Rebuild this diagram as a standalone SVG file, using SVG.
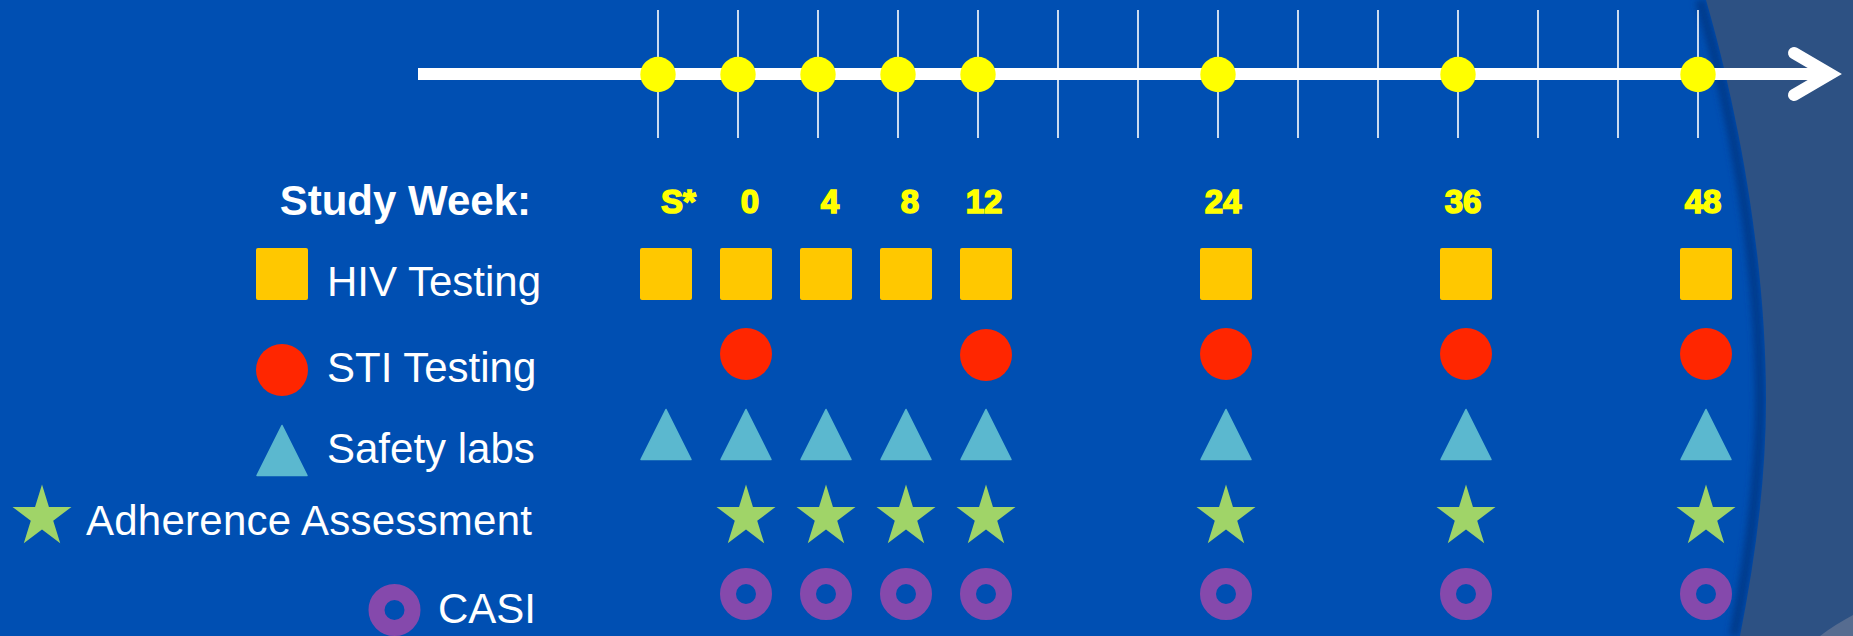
<svg xmlns="http://www.w3.org/2000/svg" xmlns:xlink="http://www.w3.org/1999/xlink" width="1853" height="636" viewBox="0 0 1853 636">
<style>
.bg{fill:#004FB2}
.tick{stroke:#FFFFFF;stroke-width:1.6}
.axis{stroke:#FFFFFF;stroke-width:12;fill:none}
.ydot{fill:#FFFF00}
.wk{font-family:"Liberation Sans",Arial,sans-serif;font-weight:bold;font-size:33px;fill:#FFFF00;stroke:#FFFF00;stroke-width:1.6;text-anchor:middle}
.head{font-family:"Liberation Sans",Arial,sans-serif;font-weight:bold;font-size:42px;fill:#FFFFFF;text-anchor:end}
.lbl{font-family:"Liberation Sans",Arial,sans-serif;font-size:42px;fill:#FFFFFF}
.sq{fill:#FFC800}
.rd{fill:#FF2600}
.tr{fill:#5BB8CF;stroke:#5BB8CF;stroke-width:1.5;stroke-linejoin:round}
.st{fill:#A0D468}
.rg{fill:none;stroke:#8549AC;stroke-width:16}
</style>
<defs>
<rect id="sq" class="sq" x="-26" y="-26" width="52" height="52" rx="2"/>
<circle id="rd" class="rd" r="26"/>
<polygon id="tr" class="tr" points="0,-25 25,25 -25,25"/>
<polygon id="st" class="st" transform="scale(1,1.05)" points="0,-31 6.94,-9.55 29.48,-9.58 11.22,3.65 18.22,25.08 0,11.8 -18.22,25.08 -11.22,3.65 -29.48,-9.58 -6.94,-9.55"/>
<circle id="rg" class="rg" r="18"/>
<filter id="blur" x="-50%" y="-10%" width="200%" height="120%"><feGaussianBlur stdDeviation="3"/></filter>
</defs>

<rect class="bg" x="0" y="0" width="1853" height="636"/>
<g id="side-panel">
<path d="M1700,0 C1729,100 1760,250 1760,400 C1760,480 1749,560 1734,636" fill="none" stroke="#003A8C" stroke-width="10" filter="url(#blur)"/>
<path d="M1706,0 C1735,100 1766,250 1766,400 C1766,480 1755,560 1740,636 L1853,636 L1853,0 Z" fill="#2D5183"/>
<path d="M1820,636 C1830,628 1842,621 1853,615 L1853,636 Z" fill="#566C90"/>
</g>

<g id="connectors">
<g id="ticks">
<line class="tick" x1="658" y1="10" x2="658" y2="138"/>
<line class="tick" x1="738" y1="10" x2="738" y2="138"/>
<line class="tick" x1="818" y1="10" x2="818" y2="138"/>
<line class="tick" x1="898" y1="10" x2="898" y2="138"/>
<line class="tick" x1="978" y1="10" x2="978" y2="138"/>
<line class="tick" x1="1058" y1="10" x2="1058" y2="138"/>
<line class="tick" x1="1138" y1="10" x2="1138" y2="138"/>
<line class="tick" x1="1218" y1="10" x2="1218" y2="138"/>
<line class="tick" x1="1298" y1="10" x2="1298" y2="138"/>
<line class="tick" x1="1378" y1="10" x2="1378" y2="138"/>
<line class="tick" x1="1458" y1="10" x2="1458" y2="138"/>
<line class="tick" x1="1538" y1="10" x2="1538" y2="138"/>
<line class="tick" x1="1618" y1="10" x2="1618" y2="138"/>
<line class="tick" x1="1698" y1="10" x2="1698" y2="138"/>
</g>
<line id="axis" class="axis" x1="418" y1="74" x2="1826" y2="74"/>
<polyline id="arrowhead" class="axis" points="1794,53 1830,74 1794,95" stroke-linecap="round" stroke-linejoin="miter"/>
<g id="visit-dots">
<circle class="ydot" cx="658" cy="74.5" r="17.7"/>
<circle class="ydot" cx="738" cy="74.5" r="17.7"/>
<circle class="ydot" cx="818" cy="74.5" r="17.7"/>
<circle class="ydot" cx="898" cy="74.5" r="17.7"/>
<circle class="ydot" cx="978" cy="74.5" r="17.7"/>
<circle class="ydot" cx="1218" cy="74.5" r="17.7"/>
<circle class="ydot" cx="1458" cy="74.5" r="17.7"/>
<circle class="ydot" cx="1698" cy="74.5" r="17.7"/>
</g>
</g>

<g id="legend">
<g id="legend-title"><text class="head" x="531" y="215">Study Week:</text></g>
<g id="legend-hiv"><use href="#sq" x="282" y="274"/><text class="lbl" x="327" y="296">HIV Testing</text></g>
<g id="legend-sti"><use href="#rd" x="282" y="370"/><text class="lbl" x="327" y="382">STI Testing</text></g>
<g id="legend-safety"><use href="#tr" x="282" y="450.5"/><text class="lbl" x="327" y="463">Safety labs</text></g>
<g id="legend-adherence"><use href="#st" x="42" y="517"/><text class="lbl" x="86" y="535" textLength="446">Adherence Assessment</text></g>
<g id="legend-casi"><use href="#rg" x="394.5" y="610"/><text class="lbl" x="438" y="623">CASI</text></g>
</g>

<g id="week-S">
<text class="wk" x="678.5" y="213">S*</text>
<use href="#sq" x="666" y="274"/>
<use href="#tr" x="666" y="434.5"/>
</g>
<g id="week-0">
<text class="wk" x="750" y="213">0</text>
<use href="#sq" x="746" y="274"/>
<use href="#rd" x="746" y="354"/>
<use href="#tr" x="746" y="434.5"/>
<use href="#st" x="746" y="517"/>
<use href="#rg" x="746" y="594"/>
</g>
<g id="week-4">
<text class="wk" x="830" y="213">4</text>
<use href="#sq" x="826" y="274"/>
<use href="#tr" x="826" y="434.5"/>
<use href="#st" x="826" y="517"/>
<use href="#rg" x="826" y="594"/>
</g>
<g id="week-8">
<text class="wk" x="910" y="213">8</text>
<use href="#sq" x="906" y="274"/>
<use href="#tr" x="906" y="434.5"/>
<use href="#st" x="906" y="517"/>
<use href="#rg" x="906" y="594"/>
</g>
<g id="week-12">
<text class="wk" x="984" y="213">12</text>
<use href="#sq" x="986" y="274"/>
<use href="#rd" x="986" y="355"/>
<use href="#tr" x="986" y="434.5"/>
<use href="#st" x="986" y="517"/>
<use href="#rg" x="986" y="594"/>
</g>
<g id="week-24">
<text class="wk" x="1223" y="213">24</text>
<use href="#sq" x="1226" y="274"/>
<use href="#rd" x="1226" y="354"/>
<use href="#tr" x="1226" y="434.5"/>
<use href="#st" x="1226" y="517"/>
<use href="#rg" x="1226" y="594"/>
</g>
<g id="week-36">
<text class="wk" x="1463" y="213">36</text>
<use href="#sq" x="1466" y="274"/>
<use href="#rd" x="1466" y="354"/>
<use href="#tr" x="1466" y="434.5"/>
<use href="#st" x="1466" y="517"/>
<use href="#rg" x="1466" y="594"/>
</g>
<g id="week-48">
<text class="wk" x="1703" y="213">48</text>
<use href="#sq" x="1706" y="274"/>
<use href="#rd" x="1706" y="354"/>
<use href="#tr" x="1706" y="434.5"/>
<use href="#st" x="1706" y="517"/>
<use href="#rg" x="1706" y="594"/>
</g>
</svg>
